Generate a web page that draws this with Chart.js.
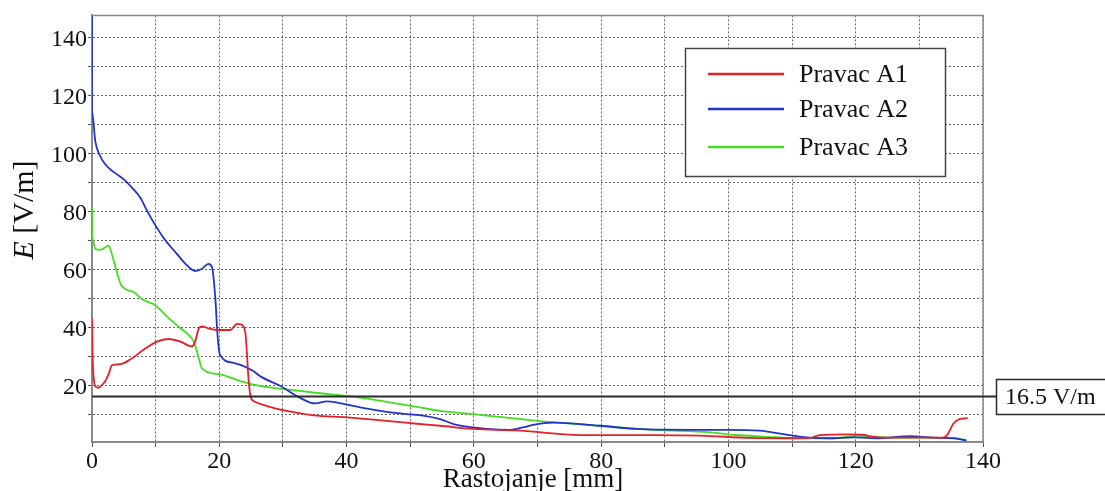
<!DOCTYPE html>
<html>
<head>
<meta charset="utf-8">
<script src="https://cdn.jsdelivr.net/npm/chart.js@4.4.1/dist/chart.umd.min.js"></script>
<style>
  html, body { margin: 0; padding: 0; background: #ffffff; }
  #wrap { width: 1105px; height: 491px; position: relative; }
</style>
</head>
<body>
<div id="wrap"><canvas id="c" width="1105" height="491"></canvas></div>
<script>
// ---- data ----
const seriesNames = ["Pravac A1", "Pravac A2", "Pravac A3"];

const xA1 = [0, 0.1, 0.3, 0.6, 1.0, 1.6, 2.1, 2.7, 3.1, 4.4, 6.0, 8.1, 10.2, 12.0, 13.9, 15.7, 16.2, 16.8, 17.3, 18.5, 19.6, 21.7, 22.8, 23.5, 24.1, 24.6, 24.9, 25.6, 27.5, 30.6, 34.8, 40.0, 46.3, 51.5, 54.7, 59.9, 67.2, 76.7, 88.2, 95.5, 103.4, 108.6, 112.8, 114.3, 119.0, 121.1, 122.7, 126.9, 133.7, 134.5, 135.3, 136.3, 137.6];
const yA1 = [43.2, 30.0, 22.0, 19.6, 19.3, 20.3, 21.6, 24.5, 27.0, 27.4, 29.0, 32.4, 35.2, 36.1, 35.2, 33.5, 35.2, 39.8, 40.4, 39.6, 39.2, 39.2, 41.3, 41.0, 38.1, 22.2, 16.4, 14.5, 13.0, 11.3, 9.8, 9.1, 7.9, 6.8, 6.2, 5.1, 4.5, 3.0, 3.0, 2.8, 2.0, 1.9, 2.0, 3.0, 3.2, 3.1, 2.4, 2.1, 2.1, 3.4, 6.8, 8.5, 8.8];

const xA2 = [0, 0, 0.52, 1.2, 2.1, 3.5, 5.0, 6.3, 7.6, 8.6, 9.7, 11.2, 13.3, 14.9, 16.2, 17.3, 18.3, 18.85, 19.4, 19.7, 20.1, 22.2, 25.4, 26.4, 29.6, 32.2, 34.3, 35.1, 36.9, 38.5, 42.1, 46.3, 49.5, 52.0, 54.7, 56.8, 59.9, 62.0, 65.7, 67.7, 69.3, 72.5, 74.6, 79.8, 85.6, 94.4, 99.7, 104.9, 109.6, 112.8, 116.4, 119.6, 123.8, 128.5, 132.1, 135.3, 137.4];
const yA2 = [148, 114.5, 104.2, 99.5, 96.2, 93.5, 91.1, 88.2, 84.8, 80.5, 76.2, 71.1, 65.5, 61.5, 59.5, 60.3, 62.0, 60.9, 49.5, 38.1, 30.7, 27.9, 25.0, 23.3, 19.9, 16.4, 14.2, 13.9, 14.6, 14.2, 12.5, 11.0, 10.2, 9.7, 8.5, 6.8, 5.6, 5.1, 4.8, 5.6, 6.5, 7.3, 7.1, 6.2, 5.1, 4.8, 4.8, 4.5, 3.0, 2.1, 1.9, 2.2, 1.9, 2.6, 2.1, 1.9, 1.1];

const xA3 = [0, 0, 0.52, 1.3, 2.1, 2.6, 3.1, 3.9, 4.6, 6.5, 8.1, 9.9, 11.8, 13.9, 15.4, 16.1, 16.7, 17.3, 20.1, 23.3, 26.4, 30.6, 35.8, 41.1, 46.3, 51.5, 54.7, 59.9, 69.9, 79.8, 88.2, 97.1, 100.7, 106.0, 111.2, 116.4, 120.6, 124.3, 129.5, 135.3, 137.4];
const yA3 = [81.4, 71.1, 67.2, 66.8, 67.7, 68.3, 65.5, 59.2, 54.6, 52.3, 49.5, 47.8, 43.8, 39.8, 37.0, 34.7, 30.1, 25.9, 23.9, 21.6, 19.9, 18.7, 17.4, 16.2, 14.4, 12.5, 11.3, 10.2, 7.9, 6.2, 4.8, 3.9, 3.1, 2.4, 1.9, 1.9, 2.8, 2.2, 2.1, 1.9, 1.3];

const xTicks = [0, 10, 20, 30, 40, 50, 60, 70, 80, 90, 100, 110, 120, 130, 140];
const yTicks = [10, 20, 30, 40, 50, 60, 70, 80, 90, 100, 110, 120, 130, 140];
const thresholdValue = 16.5;
const thresholdLabel = "16.5 V/m";
const xTitle = "Rastojanje [mm]";
const yTitleItalic = "E";
const yTitleRest = " [V/m]";

// ---- styles ----
const colors = ["#e3202c", "#2233cc", "#44dd22"];
const SERIF = "'Liberation Serif', 'Times New Roman', 'DejaVu Serif', serif";

function pts(xs, ys) { return xs.map((x, i) => ({ x: x, y: ys[i] })); }

const extras = {
  id: 'extras',
  afterDatasetsDraw(chart) {
    const ctx = chart.ctx;
    const ca = chart.chartArea;
    const ys = chart.scales.y;
    ctx.save();
    // frame top and right
    ctx.strokeStyle = '#8a8a8a';
    ctx.lineWidth = 1.5;
    ctx.beginPath();
    ctx.moveTo(ca.left, ca.top);
    ctx.lineTo(ca.right, ca.top);
    ctx.lineTo(ca.right, ca.bottom);
    ctx.stroke();

    // threshold line
    const ty = Math.round(ys.getPixelForValue(thresholdValue)) + 0.5;
    const boxL = 996, boxT = 379, boxH = 35;
    ctx.strokeStyle = '#2b2b2b';
    ctx.lineWidth = 2;
    ctx.beginPath();
    ctx.moveTo(ca.left, ty);
    ctx.lineTo(boxL, ty);
    ctx.stroke();
    ctx.fillStyle = '#fff';
    ctx.fillRect(boxL, boxT, 130, boxH);
    ctx.strokeStyle = '#2b2b2b';
    ctx.lineWidth = 1.5;
    ctx.strokeRect(boxL + 0.5, boxT + 0.5, 130, boxH);
    ctx.fillStyle = '#111';
    ctx.font = '24px ' + SERIF;
    ctx.textAlign = 'left';
    ctx.textBaseline = 'middle';
    ctx.fillText(thresholdLabel, 1005, boxT + boxH / 2 + 1);

    // legend
    const lx = 685, ly = 48, lw = 260, lh = 128;
    ctx.fillStyle = '#fff';
    ctx.fillRect(lx, ly, lw, lh);
    ctx.strokeStyle = '#444';
    ctx.lineWidth = 1.5;
    ctx.strokeRect(lx + 0.5, ly + 0.5, lw, lh);
    const rowY = [74, 109, 147];
    chart.data.datasets.forEach((ds, i) => {
      ctx.strokeStyle = ds.borderColor;
      ctx.lineWidth = 2.5;
      ctx.beginPath();
      ctx.moveTo(708, rowY[i]);
      ctx.lineTo(784, rowY[i]);
      ctx.stroke();
      ctx.fillStyle = '#111';
      ctx.font = '26px ' + SERIF;
      ctx.textAlign = 'left';
      ctx.textBaseline = 'middle';
      ctx.fillText(ds.label, 799, rowY[i] + 1);
    });

    // axis titles
    ctx.fillStyle = '#111';
    ctx.font = '27px ' + SERIF;
    ctx.textAlign = 'center';
    ctx.textBaseline = 'alphabetic';
    ctx.fillText(xTitle, 533, 487);

    ctx.save();
    ctx.translate(33, 210);
    ctx.rotate(-Math.PI / 2);
    ctx.font = 'italic 30px ' + SERIF;
    const w1 = ctx.measureText(yTitleItalic).width;
    ctx.font = '30px ' + SERIF;
    const w2 = ctx.measureText(yTitleRest).width;
    const start = -(w1 + w2) / 2;
    ctx.textAlign = 'left';
    ctx.font = 'italic 30px ' + SERIF;
    ctx.fillText(yTitleItalic, start, 0);
    ctx.font = '30px ' + SERIF;
    ctx.fillText(yTitleRest, start + w1, 0);
    ctx.restore();

    ctx.restore();
  }
};

new Chart(document.getElementById('c'), {
  type: 'line',
  data: {
    datasets: [
      { label: seriesNames[0], data: pts(xA1, yA1), borderColor: colors[0] },
      { label: seriesNames[1], data: pts(xA2, yA2), borderColor: colors[1] },
      { label: seriesNames[2], data: pts(xA3, yA3), borderColor: colors[2] }
    ].map(d => Object.assign(d, { borderWidth: 1.8, pointRadius: 0, tension: 0.3, fill: false, cubicInterpolationMode: 'monotone' }))
  },
  options: {
    responsive: false,
    devicePixelRatio: 1,
    animation: false,
    layout: { padding: { left: 0, top: 13, right: 122, bottom: 0 } },
    plugins: { legend: { display: false }, tooltip: { enabled: false } },
    scales: {
      x: {
        type: 'linear',
        min: 0, max: 140,
        afterFit: s => { s.height = 49; },
        afterBuildTicks: s => { s.ticks = xTicks.map(v => ({ value: v })); },
        ticks: {
          autoSkip: false, maxRotation: 0, padding: 0,
          color: '#111',
          font: { family: SERIF, size: 24 },
          callback: v => (v % 20 === 0 ? String(v) : '')
        },
        grid: { color: '#666', lineWidth: 1, tickLength: 5, tickColor: '#555', tickWidth: 1 },
        border: { display: true, color: '#8a8a8a', width: 2, dash: [2, 2] }
      },
      y: {
        type: 'linear',
        min: 0.6, max: 147.6,
        afterFit: s => { s.width = 92; },
        afterBuildTicks: s => { s.ticks = yTicks.map(v => ({ value: v })); },
        ticks: {
          autoSkip: false, padding: 1, labelOffset: 2,
          color: '#111',
          font: { family: SERIF, size: 24 },
          callback: v => (v % 20 === 0 ? String(v) : '')
        },
        grid: { color: '#666', lineWidth: 1, tickLength: 4, tickColor: '#555', tickWidth: 1 },
        border: { display: true, color: '#8a8a8a', width: 2, dash: [2, 2] }
      }
    }
  },
  plugins: [extras]
});
</script>
</body>
</html>
